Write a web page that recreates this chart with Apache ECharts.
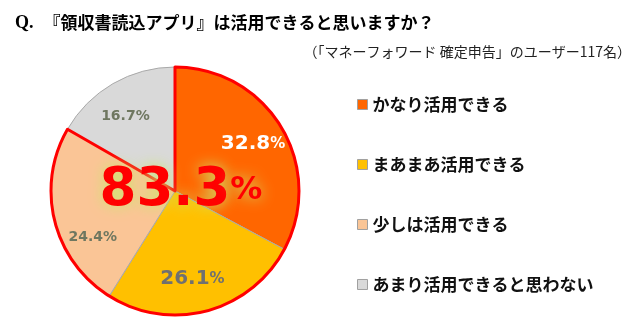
<!DOCTYPE html>
<html>
<head>
<meta charset="utf-8">
<script src="https://cdn.jsdelivr.net/npm/echarts@6/dist/echarts.min.js"></script>
<style>
html,body{margin:0;padding:0;background:#fff;}
#chart{width:640px;height:333px;}
</style>
</head>
<body>
<div id="chart"></div>
<script>
// Survey answers, clockwise from the top
const categories = ['かなり活用できる', 'まあまあ活用できる', '少しは活用できる', 'あまり活用できると思わない'];
const values = [32.8, 26.1, 24.4, 16.7];
const sliceColors = ['#FF6600', '#FFC000', '#FAC596', '#D9D9D9'];
const questionText = '『領収書読込アプリ』は活用できると思いますか？';
const sampleText = '（「マネーフォワード 確定申告」のユーザー117名）';

// Share of respondents who answered positively (first three answers)
const positiveCount = 3;
const positiveTotal = values.slice(0, positiveCount).reduce((a, b) => a + b, 0);

const numFont = '"DejaVu Sans", sans-serif';
const jpFont = '"Noto Sans CJK JP", sans-serif';

// Label styling per slice
const labelStyles = [
  { color: '#ffffff', big: 20, small: 15 },
  { color: '#707070', big: 20, small: 15 },
  { color: '#6f7760', big: 14, small: 14 },
  { color: '#6f7760', big: 14, small: 14 }
];
const labelShift = [[0, 0], [-6, 0], [6, 24], [-4, 4]];

const chart = echarts.init(document.getElementById('chart'), null, { renderer: 'canvas' });

const center = [175, 191];
const R = 124;

const mainData = categories.map((name, i) => ({
  name: name,
  value: values[i],
  itemStyle: { color: sliceColors[i] }
}));

const labelData = categories.map((name, i) => ({
  name: name,
  value: values[i],
  itemStyle: { color: 'rgba(0,0,0,0)' },
  label: {
    formatter: '{n|' + values[i].toFixed(1) + '}{p|%}',
    rich: {
      n: { fontFamily: numFont, fontWeight: 'bold', fontSize: labelStyles[i].big, color: labelStyles[i].color },
      p: { fontFamily: numFont, fontWeight: 'bold', fontSize: labelStyles[i].small, color: labelStyles[i].color }
    }
  }
}));

const outlineData = [
  { name: 'positive', value: positiveTotal, itemStyle: { color: 'rgba(0,0,0,0)', borderColor: '#FF0000', borderWidth: 3 } },
  { name: 'other', value: values.slice(positiveCount).reduce((a, b) => a + b, 0), itemStyle: { color: 'rgba(0,0,0,0)', borderWidth: 0 } }
];

const glow = { textShadowColor: 'rgba(205,230,110,1)', textShadowBlur: 14 };

const option = {
  backgroundColor: '#ffffff',
  animation: false,
  title: [
    {
      left: 10, top: 9,
      text: '{q|Q.}  {t|' + questionText + '}',
      textStyle: {
        rich: {
          q: { fontFamily: '"Liberation Serif", serif', fontSize: 18, color: '#000' },
          t: { fontFamily: jpFont, fontWeight: 'bold', fontSize: 17, color: '#000' }
        }
      }
    },
    {
      right: 4, top: 40,
      text: sampleText,
      textStyle: { fontFamily: jpFont, fontWeight: 'normal', fontSize: 14, color: '#222' }
    }
  ],
  legend: {
    orient: 'vertical',
    left: 352,
    top: 91,
    itemGap: 43,
    itemWidth: 10,
    itemHeight: 10,
    icon: 'rect',
    selectedMode: false,
    data: categories.map((name, i) => ({
      name: name,
      itemStyle: { color: sliceColors[i], borderColor: '#a0a0a0', borderWidth: 1 }
    })),
    textStyle: { fontFamily: jpFont, fontWeight: 'bold', fontSize: 17, color: '#111' }
  },
  series: [
    {
      type: 'pie',
      center: center,
      radius: [0, R],
      startAngle: 90,
      clockwise: true,
      silent: true,
      data: mainData,
      label: { show: false },
      labelLine: { show: false },
      itemStyle: { borderColor: '#a9a9a9', borderWidth: 1 }
    },
    {
      type: 'pie',
      center: center,
      radius: [0, R],
      startAngle: 90,
      clockwise: true,
      silent: true,
      data: outlineData,
      label: { show: false },
      labelLine: { show: false },
      z: 3
    },
    {
      type: 'pie',
      center: center,
      radius: [0, 176],
      startAngle: 90,
      clockwise: true,
      silent: true,
      data: labelData,
      label: { show: true, position: 'inside' },
      labelLine: { show: false },
      labelLayout: function (p) {
        return { dx: labelShift[p.dataIndex][0], dy: labelShift[p.dataIndex][1] };
      },
      z: 4
    }
  ],
  graphic: [
    {
      type: 'text',
      z: 100,
      style: {
        x: 181,
        y: 191,
        align: 'center',
        verticalAlign: 'middle',
        text: '{a|' + positiveTotal.toFixed(1) + '}{b|%}',
        rich: {
          a: Object.assign({ fontFamily: numFont, fontWeight: 'bold', fontSize: 53, fill: '#FF0000' }, glow),
          b: Object.assign({ fontFamily: numFont, fontWeight: 'bold', fontSize: 32, fill: '#FF0000' }, glow)
        }
      }
    }
  ]
};

chart.setOption(option);
</script>
</body>
</html>
